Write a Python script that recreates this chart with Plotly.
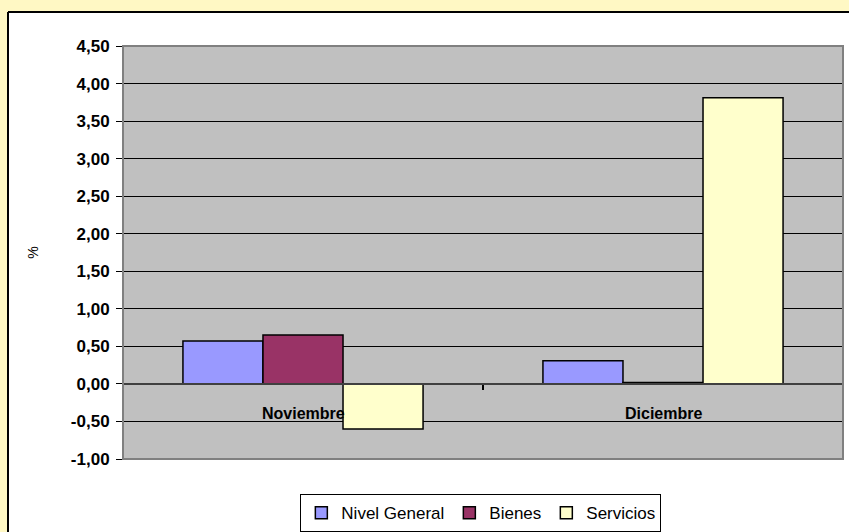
import plotly.graph_objects as go

categories = ["Noviembre", "Diciembre"]
nivel_general = [0.57, 0.31]
bienes = [0.65, 0.02]
servicios = [-0.60, 3.81]
y_ticks = [-1.0, -0.5, 0.0, 0.5, 1.0, 1.5, 2.0, 2.5, 3.0, 3.5, 4.0, 4.5]
y_tick_text = [("%.2f" % v).replace(".", ",") for v in y_ticks]
Y_MIN, Y_MAX = -1.0, 4.5

FONT = "Liberation Sans, Arial, sans-serif"
W, H = 849, 532
L, R, T, B = 123, 6, 46, 73
PW, PH = W - L - R, H - T - B

def px(xp):
    return (xp - L) / PW

def py(yp):
    return (H - B - yp) / PH

fig = go.Figure()
series = [("Nivel General", nivel_general, "#9999FF"),
          ("Bienes", bienes, "#993366"),
          ("Servicios", servicios, "#FFFFCC")]
for name, vals, col in series:
    fig.add_trace(go.Bar(x=categories, y=vals, name=name,
                         marker=dict(color=col, line=dict(color="#000000", width=1.5))))

annotations = [dict(x=c, y=0, xref="x", yref="y", text="<b>%s</b>" % c, showarrow=False,
                    yshift=-30, font=dict(family=FONT, size=16, color="#000000"))
               for c in categories]

YEL = "#FFF8C4"
shapes = [
    dict(type="rect", xref="paper", yref="paper", x0=px(-5), x1=px(W + 5), y0=py(12), y1=py(-5),
         fillcolor=YEL, line=dict(width=0), layer="below"),
    dict(type="rect", xref="paper", yref="paper", x0=px(-5), x1=px(8), y0=py(H + 5), y1=py(-5),
         fillcolor=YEL, line=dict(width=0), layer="below"),
    dict(type="rect", xref="paper", yref="paper", x0=0, x1=1, y0=0, y1=1,
         fillcolor="#C0C0C0", line=dict(width=0), layer="below"),
    dict(type="line", xref="paper", yref="paper", x0=px(8), x1=px(W + 5), y0=py(12), y1=py(12),
         line=dict(color="#000000", width=2)),
    dict(type="line", xref="paper", yref="paper", x0=px(8), x1=px(8), y0=py(H + 5), y1=py(12),
         line=dict(color="#000000", width=2)),
    dict(type="rect", xref="paper", yref="paper", x0=0, x1=1, y0=0, y1=1,
         fillcolor="rgba(0,0,0,0)", line=dict(color="#808080", width=2)),
]

fig.update_layout(
    width=W, height=H,
    margin=dict(l=L, r=R, t=T, b=B, autoexpand=False),
    paper_bgcolor="#FFFFFF",
    plot_bgcolor="#C0C0C0",
    barmode="group", bargap=0.333, bargroupgap=0,
    font=dict(family=FONT, color="#000000"),
    showlegend=True,
    legend=dict(orientation="h", x=0.497, xanchor="center", y=-0.085, yanchor="top",
                bgcolor="#FFFFFF", bordercolor="#000000", borderwidth=1,
                font=dict(family=FONT, size=17, color="#000000"),
                itemwidth=30, tracegroupgap=0),
    xaxis=dict(showticklabels=False, showgrid=False, zeroline=False,
               showline=True, linecolor="#404040", linewidth=2,
               anchor="free", position=(0 - Y_MIN) / (Y_MAX - Y_MIN),
               tickmode="array", tickvals=[0.5], ticks="outside", ticklen=5,
               tickcolor="#000000", tickwidth=2),
    yaxis=dict(range=[Y_MIN, Y_MAX], tickvals=y_ticks, ticktext=y_tick_text,
               showgrid=True, gridcolor="#000000", gridwidth=1,
               zeroline=False,
               showline=True, linecolor="#000000", linewidth=1,
               ticks="outside", ticklen=6, tickcolor="#000000", ticklabelstandoff=3,
               tickfont=dict(family=FONT, size=17, color="#000000", weight="bold"),
               title=dict(text="%", font=dict(family=FONT, size=14, color="#000000"), standoff=28)),
    annotations=annotations,
    shapes=shapes,
)

fig.write_html("out.html", config={"displayModeBar": False},
               post_script="document.body.style.margin='0';document.body.style.padding='0';")
